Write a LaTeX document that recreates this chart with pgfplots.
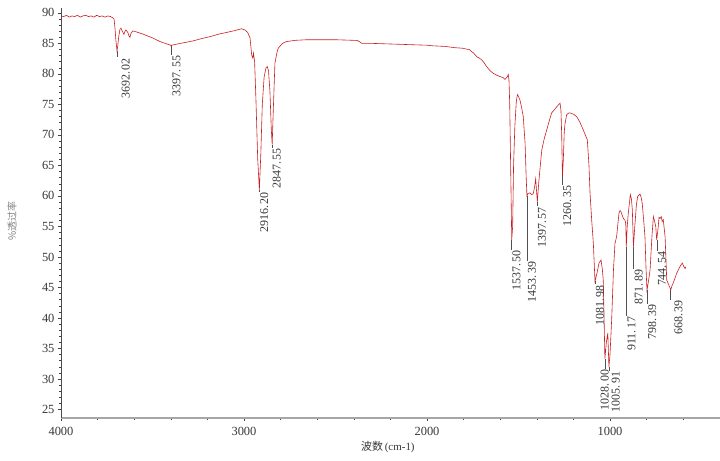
\documentclass[border=0pt]{standalone}
\usepackage{fontspec}
\setmainfont{Liberation Serif}
\newfontfamily\cjk{Noto Sans CJK SC}
\usepackage{pgfplots}
\pgfplotsset{compat=1.18}
\definecolor{spec}{RGB}{200,30,35}
\definecolor{lead}{RGB}{80,80,80}
\definecolor{txt}{RGB}{55,55,55}
\newcommand{\pk}[5]{%
  \draw[lead, line width=0.5pt] (axis cs:#1,#2) -- (axis cs:#1,#3);
  \node[xshift=#5, rotate=90, anchor=north east, inner sep=0.6pt, font=\fontsize{12}{12}\selectfont, text=txt] at (axis cs:#1,#3) {#4};
}
\begin{document}
\begin{tikzpicture}
\begin{axis}[
  scale only axis, width=659bp, height=410bp,
  x dir=reverse, xmin=399, xmax=4000, ymin=23.6, ymax=90.8,
  axis x line*=bottom, axis y line*=left,
  x axis line style={black!35, line width=1.6pt},
  y axis line style={black!70, line width=0.5pt},
  xtick={1000,2000,3000,4000},
  minor xtick={400,600,...,3800},
  ytick={25,30,...,90},
  minor y tick num=4,
  tick align=outside,
  major tick length=3bp, minor tick length=2bp,
  tick style={black!75, line width=0.4pt},
  /pgf/number format/assume math mode=true,
  /pgf/number format/1000 sep={},
  ticklabel style={font=\fontsize{12.5}{12.5}\selectfont, text=txt},
  xticklabel style={yshift=-3bp},
  xlabel={{\cjk 波数}\,(cm-1)},
  xlabel style={at={(axis description cs:0.496,0)}, anchor=center, yshift=-29bp, font=\fontsize{11}{11}\selectfont, text=txt},
  ylabel={{\cjk \%透过率}},
  ylabel style={at={(axis description cs:-0.0744,0.48)}, anchor=center, font=\fontsize{10}{10}\selectfont, text=black!50},
  clip mode=individual,
]
\addplot[spec, line width=0.6pt] coordinates {
(4000,89.5)(3985,89.4)(3970,89.6)(3955,89.3)(3940,89.5)(3925,89.4)(3910,89.6)(3895,89.3)
(3880,89.5)(3865,89.6)(3850,89.4)(3835,89.5)(3820,89.3)(3805,89.6)(3790,89.4)(3775,89.5)
(3760,89.3)(3745,89.5)(3730,89.4)(3718,89.2)(3710,89.0)(3705,87.5)(3700,85.5)(3694,83.8)
(3690,84.5)(3685,86.0)(3678,87.3)(3672,87.5)(3665,87.0)(3656,86.5)(3650,87.0)(3645,87.2)
(3635,86.8)(3628,86.2)(3623,86.0)(3618,86.6)(3608,87.05)(3590,86.9)(3570,86.7)(3550,86.5)
(3500,85.9)(3459,85.3)(3420,84.9)(3400,84.7)(3398,84.5)(3395,84.7)(3380,84.8)(3330,85.1)
(3279,85.4)(3230,85.8)(3186,86.1)(3140,86.5)(3094,86.8)(3050,87.1)(3013,87.4)(2995,87.2)
(2980,86.8)(2967,85.9)(2958,83.1)(2952,82.6)(2948,83.4)(2942,82.0)(2935,76)(2925,66)
(2916,61.0)(2908,67)(2900,75)(2890,79.5)(2880,81.0)(2873,81.2)(2866,80.5)(2858,77)
(2851,71)(2846,68.4)(2840,74)(2831,81.75)(2820,83.5)(2813,84.2)(2790,85.0)(2767,85.3)
(2720,85.5)(2657,85.6)(2600,85.6)(2500,85.6)(2400,85.5)(2384,85.5)(2370,85.3)(2357,85.0)
(2300,85.0)(2200,84.9)(2100,84.8)(2000,84.7)(1967,84.6)(1900,84.5)(1850,84.3)(1803,84.2)
(1783,84.05)(1770,84.0)(1765,83.9)(1756,83.66)(1745,83.4)(1728,82.8)(1715,82.6)(1701,82.3)
(1690,81.9)(1674,81.2)(1655,80.5)(1638,80.1)(1620,79.8)(1601,79.56)(1585,79.4)(1574,79.1)
(1565,79.4)(1560,79.6)(1556,79.9)(1552,79.0)(1548,75)(1543,65)(1537,52.8)(1532,55)
(1527,65)(1520,71.4)(1512,75.5)(1506,76.6)(1500,76.3)(1492,75.7)(1483,74.5)(1474,73.0)
(1464,68.6)(1458,63)(1454,60.0)(1448,60.4)(1437,60.5)(1428,60.2)(1419,60.4)(1412,61.5)
(1406,62.8)(1402,61.0)(1397,59.0)(1390,62)(1383,64.3)(1373,67.5)(1360,69.3)(1346,70.8)
(1330,72.5)(1319,73.6)(1305,74.1)(1291,74.6)(1280,75.0)(1273,75.2)(1268,74.0)(1264,70)
(1260,63.2)(1255,66)(1250,70.5)(1246,71.8)(1237,73.3)(1225,73.6)(1219,73.6)(1200,73.4)
(1182,73.0)(1165,72.1)(1146,70.8)(1135,70.0)(1124,69.2)(1115,65)(1109,60.4)(1100,56)
(1091,52.2)(1082,46.0)(1070,47.5)(1060,49.0)(1049,49.5)(1042,48.0)(1037,46.2)(1033,41)
(1028,33.3)(1020,36)(1012,37.5)(1006,32.0)(1000,34)(991,39.7)(981,47.9)(973,52.2)
(964,53.3)(951,57.2)(945,57.6)(940,57.4)(927,56.3)(918,56.0)(914,55.5)(911,51.7)
(906,55)(900,57.2)(889,60.2)(883,59.5)(878,57.7)(872,51.7)(866,54.4)(856,58.5)
(849,59.9)(836,60.3)(830,59.8)(824,58.8)(816,56)(809,53.3)(803,48)(798,44.5)
(790,46.0)(781,47.9)(771,53.3)(763,56.6)(756,55.8)(750,55.0)(745,52.8)(738,54.5)
(732,56.5)(727,56.3)(720,56.6)(715,55.8)(709,56.1)(699,53.3)(690,46.2)(680,45.5)
(672,44.9)(668,44.6)(660,45.4)(655,45.7)(645,46.5)(636,47.3)(625,48.0)(612,48.7)
(605,49.0)(598,48.5)(590,48.1)(585,48.4)
};
\pk{3692.02}{83.8}{82.7}{3692.\kern1.5pt02}{3.5bp}
\pk{3397.55}{84.6}{83.1}{3397.\kern1.5pt55}{0.5bp}
\pk{2916.20}{61.0}{60.7}{2916.\kern1.5pt20}{0bp}
\pk{2847.55}{68.4}{67.9}{2847.\kern1.5pt55}{0bp}
\pk{1537.50}{52.8}{51.2}{1537.\kern1.5pt50}{0bp}
\pk{1453.39}{60.0}{49.3}{1453.\kern1.5pt39}{0bp}
\pk{1397.57}{59.0}{58.3}{1397.\kern1.5pt57}{0bp}
\pk{1260.35}{63.2}{61.8}{1260.\kern1.5pt35}{0bp}
\pk{1081.98}{46.0}{45.5}{1081.\kern1.5pt98}{0bp}
\pk{1028.00}{33.3}{31.6}{1028.\kern1.5pt00}{-5bp}
\pk{1005.91}{32.0}{31.3}{1005.\kern1.5pt91}{2bp}
\pk{911.17}{51.7}{40.3}{911.\kern1.5pt17}{0.5bp}
\pk{871.89}{51.7}{48.0}{871.\kern1.5pt89}{0.5bp}
\pk{798.39}{44.5}{42.3}{798.\kern1.5pt39}{0.5bp}
\pk{744.54}{52.8}{51.0}{744.\kern1.5pt54}{0.5bp}
\pk{668.39}{44.6}{43.0}{668.\kern1.5pt39}{3bp}
\end{axis}
\pgfresetboundingbox
\path ([xshift=-61bp,yshift=-43bp]current axis.south west) rectangle ([yshift=8bp]current axis.north east);
\end{tikzpicture}
\end{document}
